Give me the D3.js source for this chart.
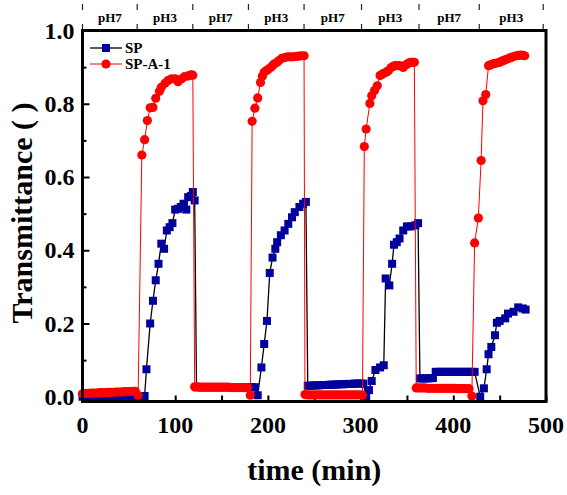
<!DOCTYPE html>
<html lang="en">
<head>
    <meta charset="UTF-8">
    <title>Transmittance</title>
    <style>
        body { margin: 0; background: #fff; }
        text { font-family: "Liberation Serif", "Times New Roman", serif; font-weight: bold; }
    </style>
</head>
<script src="https://d3js.org/d3.v7.min.js"></script>
<body>
    <div id="chart"></div>
</body>
<script>
const width = 567
const height = 495

// pH stages on the top strip (boundaries in min)
const phBounds = [0, 59, 119, 179, 239, 301, 363, 428, 497]
const phLabels = ["pH7", "pH3", "pH7", "pH3", "pH7", "pH3", "pH7", "pH3"]

const xTicks = [0, 100, 200, 300, 400, 500]
const yTicks = [0, 0.2, 0.4, 0.6, 0.8, 1.0]

// SP (blue squares) [time, transmittance]
const sp = [
    [0,0.0],[3,0.0],[6,0.0],[9,0.0],[12,0.0],[15,0.0],[18,0.0],[21,0.0],[24,0.0],[27,0.0],
    [30,0.0],[33,0.0],[36,0.0],[39,0.0],[42,0.0],[45,0.0],[48,0.0],[51,0.0],[54,0.0],[57,0.0],
    [60,0.0],[63,0.0],[67,0.002],
    [69,0.075],[73,0.200],[76,0.262],[79,0.318],[82,0.363],[85,0.418],[88,0.404],[91,0.454],
    [94,0.463],[97,0.474],[100,0.511],[103,0.513],[106,0.518],[109,0.527],[112,0.511],[114,0.545],
    [117,0.548],[119,0.559],[121,0.536],
    [123,0.026],[126,0.026],[129,0.026],[132,0.026],[135,0.026],[138,0.026],[141,0.026],[144,0.026],
    [147,0.026],[150,0.026],[153,0.026],[156,0.026],[159,0.026],[162,0.026],[165,0.026],[168,0.026],
    [171,0.026],[174,0.026],[177,0.026],[180,0.026],[183,0.026],[186,0.026],[189,0.004],
    [193,0.080],[196,0.144],[199,0.207],[202,0.338],[205,0.380],[208,0.404],[210,0.422],[214,0.441],
    [218,0.454],[222,0.472],[226,0.490],[229,0.504],[234,0.518],[238,0.527],[241,0.532],
    [243,0.030],[246,0.030],[249,0.031],[252,0.031],[255,0.031],[258,0.032],[261,0.032],[264,0.032],
    [267,0.033],[270,0.033],[273,0.033],[276,0.034],[279,0.034],[282,0.034],[285,0.035],[288,0.035],
    [291,0.035],[294,0.036],[297,0.036],[300,0.036],[303,0.036],
    [306,0.0],[309,0.018],[312,0.043],[316,0.073],[321,0.080],[325,0.086],[327,0.323],[331,0.304],
    [334,0.363],[336,0.415],[339,0.422],[342,0.432],[346,0.454],[350,0.465],[354,0.465],[359,0.468],
    [362,0.474],
    [364,0.050],[367,0.050],[370,0.050],[373,0.050],[376,0.051],[378,0.051],[381,0.068],[384,0.068],
    [387,0.068],[390,0.068],[393,0.068],[396,0.068],[399,0.068],[402,0.068],[405,0.068],[408,0.068],
    [411,0.068],[414,0.068],[417,0.068],[420,0.068],[423,0.068],[429,0.0],
    [433,0.023],[436,0.075],[438,0.116],[441,0.136],[445,0.168],[447,0.202],[450,0.207],[456,0.214],
    [459,0.227],[465,0.232],[470,0.244],[475,0.241],[478,0.238]
]

// SP-A-1 (red circles) [time, transmittance]
const spa = [
    [0,0.008],[3,0.009],[6,0.009],[9,0.010],[12,0.010],[15,0.010],[18,0.011],[21,0.011],[24,0.011],
    [27,0.012],[30,0.012],[33,0.012],[36,0.013],[39,0.013],[42,0.013],[45,0.014],[48,0.014],[51,0.014],
    [54,0.015],[57,0.015],[60,0.004],
    [64,0.660],[67,0.702],[70,0.754],[73,0.789],[76,0.790],[79,0.815],[83,0.834],[85,0.845],[89,0.856],
    [92,0.863],[96,0.868],[100,0.868],[103,0.860],[107,0.868],[110,0.874],[114,0.876],[117,0.879],
    [119,0.878],
    [121,0.027],[124,0.027],[127,0.026],[130,0.026],[133,0.026],[136,0.026],[139,0.026],[142,0.026],
    [145,0.026],[148,0.026],[151,0.026],[154,0.026],[157,0.026],[160,0.025],[163,0.025],[166,0.025],
    [169,0.025],[172,0.025],[175,0.025],[178,0.025],[181,0.004],
    [183,0.752],[186,0.788],[189,0.816],[192,0.858],[194,0.875],[196,0.886],[198,0.890],[200,0.893],
    [203,0.899],[205,0.904],[207,0.909],[210,0.913],[212,0.918],[215,0.924],[218,0.926],[221,0.928],
    [224,0.928],[227,0.928],[230,0.929],[233,0.930],[236,0.931],[239,0.931],
    [240,0.006],[243,0.005],[246,0.005],[249,0.005],[252,0.005],[255,0.005],[258,0.005],[261,0.005],
    [264,0.005],[267,0.005],[270,0.005],[273,0.005],[276,0.005],[279,0.005],[282,0.005],[285,0.005],
    [288,0.005],[291,0.005],[294,0.005],[297,0.005],[300,0.005],[302,0.004],
    [304,0.683],[306,0.731],[310,0.801],[312,0.822],[315,0.836],[318,0.849],[321,0.877],[323,0.880],
    [325,0.883],[328,0.887],[330,0.890],[333,0.899],[335,0.902],[337,0.904],[340,0.904],[342,0.904],
    [346,0.899],[348,0.905],[350,0.908],[352,0.911],[354,0.913],[356,0.913],[358,0.913],
    [360,0.024],[363,0.024],[366,0.024],[369,0.024],[372,0.023],[375,0.023],[378,0.023],[381,0.023],
    [384,0.023],[387,0.023],[390,0.023],[393,0.023],[396,0.023],[399,0.023],[402,0.023],[405,0.022],
    [408,0.022],[411,0.022],[414,0.022],[417,0.022],[420,0.002],
    [423,0.420],[427,0.488],[430,0.645],[432,0.808],[435,0.825],[438,0.904],[440,0.906],[443,0.909],
    [445,0.910],[448,0.912],[450,0.913],[452,0.916],[454,0.918],[456,0.920],[458,0.922],[461,0.925],
    [463,0.927],[465,0.929],[468,0.931],[470,0.932],[473,0.933],[475,0.932],[477,0.931]
]

const x = d3.scaleLinear().domain([0, 500]).range([82.5, 546])
const y = d3.scaleLinear().domain([-0.013, 1.0]).range([401.5, 30.5])

const svg = d3.select("#chart")
    .append("svg")
    .attr("width", width)
    .attr("height", height)

// top pH strip
const strip = svg.append("g")
strip.selectAll("line.up")
    .data(phBounds)
    .enter()
    .append("line")
    .attr("x1", d => x(d)).attr("x2", d => x(d))
    .attr("y1", 4).attr("y2", 10)
    .attr("stroke", "#222").attr("stroke-width", 1.2)
strip.selectAll("line.down")
    .data(phBounds)
    .enter()
    .append("line")
    .attr("x1", d => x(d)).attr("x2", d => x(d))
    .attr("y1", 24).attr("y2", 30)
    .attr("stroke", "#222").attr("stroke-width", 1.2)
strip.selectAll("text")
    .data(phLabels)
    .enter()
    .append("text")
    .attr("x", (d, i) => (x(phBounds[i]) + x(phBounds[i + 1])) / 2)
    .attr("y", 22)
    .attr("text-anchor", "middle")
    .attr("font-size", 13)
    .text(d => d)

// axes with inward ticks
const xAxis = d3.axisBottom(x).tickValues(d3.range(0, 501, 50)).tickSize(-6).tickFormat("")
svg.append("g")
    .attr("transform", `translate(0,${y.range()[0]})`)
    .call(xAxis)
    .call(g => g.select(".domain").remove())
    .call(g => g.selectAll("line").attr("stroke", "#000").attr("stroke-width", 2))

const yMinor = d3.axisLeft(y).tickValues(d3.range(0.1, 1, 0.2)).tickSize(-4).tickFormat("")
svg.append("g")
    .attr("transform", `translate(${x.range()[0]},0)`)
    .call(yMinor)
    .call(g => g.select(".domain").remove())
    .call(g => g.selectAll("line").attr("stroke", "#000").attr("stroke-width", 2))

const yAxis = d3.axisLeft(y).tickValues(yTicks).tickSize(-7).tickFormat(d3.format(".1f"))
svg.append("g")
    .attr("transform", `translate(${x.range()[0]},0)`)
    .call(yAxis)
    .call(g => g.select(".domain").remove())
    .call(g => g.selectAll("line").attr("stroke", "#000").attr("stroke-width", 2))
    .call(g => g.selectAll("text")
        .attr("x", -8)
        .attr("font-size", 24)
        .attr("font-family", "Liberation Serif, serif")
        .attr("fill", "#000"))

svg.append("g")
    .selectAll("text")
    .data(xTicks)
    .enter()
    .append("text")
    .attr("x", d => x(d))
    .attr("y", 433)
    .attr("text-anchor", "middle")
    .attr("font-size", 24)
    .text(d => d)

// series
const line = d3.line().x(d => x(d[0])).y(d => y(d[1]))

svg.append("path")
    .datum(sp)
    .attr("fill", "none")
    .attr("stroke", "#000")
    .attr("stroke-width", 1.3)
    .attr("d", line)
svg.append("g")
    .selectAll("rect")
    .data(sp)
    .enter()
    .append("rect")
    .attr("x", d => x(d[0]) - 4)
    .attr("y", d => y(d[1]) - 4)
    .attr("width", 8)
    .attr("height", 8)
    .attr("fill", "#00009c")

svg.append("path")
    .datum(spa)
    .attr("fill", "none")
    .attr("stroke", "#ff0000")
    .attr("stroke-width", 1)
    .attr("d", line)
svg.append("g")
    .selectAll("circle")
    .data(spa)
    .enter()
    .append("circle")
    .attr("cx", d => x(d[0]))
    .attr("cy", d => y(d[1]))
    .attr("r", 4.6)
    .attr("fill", "#ff0000")

// frame
svg.append("rect")
    .attr("x", x.range()[0])
    .attr("y", y.range()[1])
    .attr("width", x.range()[1] - x.range()[0])
    .attr("height", y.range()[0] - y.range()[1])
    .attr("fill", "none")
    .attr("stroke", "#000")
    .attr("stroke-width", 3)

// legend
const legend = svg.append("g").attr("transform", "translate(90,48)")
legend.append("line").attr("x1", 0).attr("x2", 32).attr("y1", 0).attr("y2", 0)
    .attr("stroke", "#000").attr("stroke-width", 1.3)
legend.append("rect").attr("x", 12).attr("y", -4).attr("width", 8).attr("height", 8).attr("fill", "#00009c")
legend.append("text").attr("x", 35).attr("y", 5).attr("font-size", 15).text("SP")
legend.append("line").attr("x1", 0).attr("x2", 32).attr("y1", 16).attr("y2", 16)
    .attr("stroke", "#ff0000").attr("stroke-width", 1)
legend.append("circle").attr("cx", 16).attr("cy", 16).attr("r", 4.6).attr("fill", "#ff0000")
legend.append("text").attr("x", 35).attr("y", 21).attr("font-size", 15).text("SP-A-1")

// axis titles
svg.append("text")
    .attr("x", (x.range()[0] + x.range()[1]) / 2)
    .attr("y", 480)
    .attr("text-anchor", "middle")
    .attr("font-size", 30)
    .text("time (min)")
svg.append("text")
    .attr("transform", "translate(32,213) rotate(-90)")
    .attr("text-anchor", "middle")
    .attr("font-size", 30)
    .text("Transmittance ( )")
</script>
</html>
